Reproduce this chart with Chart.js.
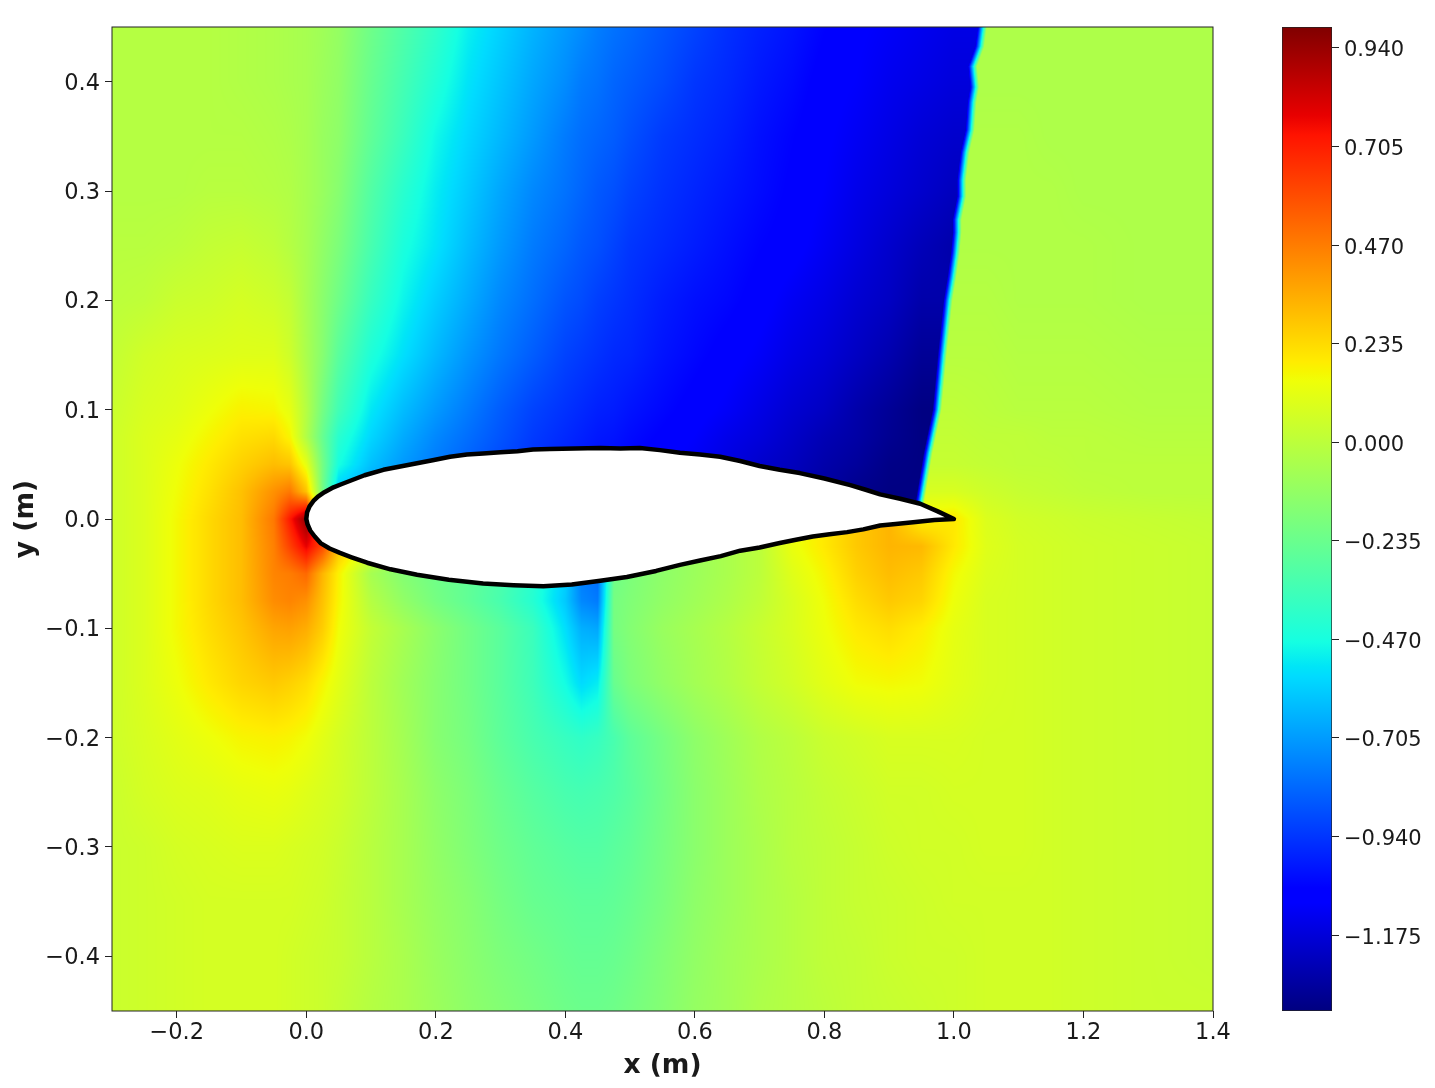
<!DOCTYPE html>
<html>
<head>
<meta charset="utf-8">
<title>Airfoil pressure field</title>
<script src="https://cdn.jsdelivr.net/npm/chart.js@4"></script>
<style>
body { margin: 0; background: #fff; }
canvas { position: absolute; top: 0; }
</style>
</head>
<body>
<canvas id="fieldChart" width="1435" height="1088" style="left:0"></canvas>
<canvas id="barChart" width="195" height="1088" style="left:1240px"></canvas>
<script>
// tick labels
const xTicks = [-0.2, 0, 0.2, 0.4, 0.6, 0.8, 1.0, 1.2, 1.4];
const yTicks = [-0.4, -0.3, -0.2, -0.1, 0, 0.1, 0.2, 0.3, 0.4];
const barTicks = [-1.175, -0.94, -0.705, -0.47, -0.235, 0, 0.235, 0.47, 0.705, 0.94];
const barRange = [-1.356, 0.99];

// grid of values (null = inside the airfoil)
const gridX = [-0.3, -0.25, -0.2, -0.15, -0.1, -0.05, -0.025, 0, 0.025, 0.05, 0.1, 0.15, 0.2, 0.25, 0.3, 0.35, 0.4, 0.425, 0.45, 0.475, 0.5, 0.55, 0.6, 0.65, 0.7, 0.75, 0.8, 0.85, 0.9, 0.95, 1, 1.05, 1.1, 1.15, 1.2, 1.3, 1.4];
const gridY = [0.45, 0.4, 0.35, 0.3, 0.25, 0.2, 0.15, 0.1, 0.075, 0.05, 0.025, 0, -0.025, -0.05, -0.075, -0.1, -0.15, -0.2, -0.25, -0.3, -0.35, -0.4, -0.45];
const gridValues = [
    [-.02, -.02, -.02, -.02, -.03, -.04, -.05, -.06, -.08, -.11, -.22, -.31, -.4, -.51, -.58, -.65, -.71, -.74, -.775, -.8, -.82, -.865, -.91, -.955, -.99, -1.02, -1.06, -1.09, -1.11, -1.13, -1.15, -.04, -.04, -.04, -.04, -.04, -.04],
    [-.02, -.02, -.02, -.02, -.03, -.04, -.05, -.06, -.09, -.12, -.24, -.34, -.44, -.54, -.61, -.68, -.74, -.78, -.8, -.83, -.85, -.89, -.94, -.97, -1.01, -1.04, -1.08, -1.1, -1.13, -1.15, -1.17, -.04, -.04, -.04, -.04, -.04, -.04],
    [-.02, -.02, -.02, -.02, -.02, -.03, -.04, -.06, -.1, -.13, -.26, -.37, -.49, -.57, -.64, -.71, -.78, -.81, -.83, -.85, -.88, -.93, -.96, -.99, -1.03, -1.06, -1.09, -1.12, -1.15, -1.18, -1.2, -.03, -.03, -.04, -.04, -.04, -.04],
    [-.02, -.02, -.02, -.01, -.01, -.02, -.03, -.06, -.1, -.15, -.3, -.42, -.52, -.6, -.68, -.75, -.8, -.83, -.86, -.88, -.91, -.95, -.98, -1.01, -1.04, -1.07, -1.1, -1.14, -1.17, -1.2, -1.23, -.03, -.03, -.03, -.04, -.04, -.04],
    [-.01, -.01, 0, .02, .03, .01, -.02, -.06, -.12, -.18, -.33, -.46, -.54, -.63, -.71, -.78, -.83, -.86, -.88, -.91, -.94, -.97, -1, -1.03, -1.06, -1.08, -1.12, -1.16, -1.2, -1.24, -1.27, -.03, -.03, -.03, -.03, -.04, -.04],
    [0, .01, .04, .05, .07, .05, .02, -.06, -.14, -.22, -.38, -.5, -.59, -.67, -.75, -.81, -.87, -.89, -.92, -.94, -.96, -1, -1.03, -1.05, -1.08, -1.12, -1.15, -1.19, -1.22, -1.27, -.02, -.02, -.03, -.03, -.03, -.04, -.04],
    [.02, .06, .08, .09, .1, .1, .05, -.05, -.15, -.28, -.45, -.55, -.64, -.72, -.79, -.85, -.91, -.93, -.95, -.97, -.98, -1.02, -1.05, -1.08, -1.11, -1.15, -1.18, -1.22, -1.26, -1.31, -.01, -.01, -.02, -.02, -.02, -.03, -.03],
    [.04, .08, .1, .14, .18, .17, .12, -.02, -.2, -.35, -.53, -.63, -.71, -.78, -.85, -.91, -.95, -.97, -.99, -1, -1.02, -1.05, -1.08, -1.11, -1.15, -1.19, -1.22, -1.27, -1.31, -1.35, .01, 0, -.01, -.01, -.01, -.02, -.02],
    [.05, .09, .12, .17, .22, .24, .17, -.03, -.24, -.42, -.57, -.67, -.75, -.81, -.87, -.93, -.97, -.99, -1.01, -1.02, -1.04, -1.07, -1.1, -1.14, -1.17, -1.21, -1.25, -1.28, -1.32, -1.35, .02, .01, .01, 0, 0, -.01, -.01],
    [.05, .09, .14, .2, .26, .31, .29, .12, -.2, -.47, -.62, -.71, -.78, -.84, -.9, -.95, -.99, -1.01, -1.03, -1.04, -1.06, -1.09, -1.12, -1.16, -1.2, -1.23, -1.27, -1.3, -1.34, -1.35, .03, .02, .01, .01, 0, 0, 0],
    [.05, .09, .15, .22, .3, .42, .48, .3, -.2, -.6, -.7, -.78, -.83, -.88, -.93, -.98, -1.02, -1.04, -1.05, -1.06, -1.08, -1.11, -1.14, -1.18, -1.22, -1.25, -1.29, -1.33, -1.35, -1.35, .08, .05, .03, .02, .01, 0, 0],
    [.05, .09, .16, .24, .31, .48, .72, .95, null, null, null, null, null, null, null, null, null, null, null, null, null, null, null, null, null, null, null, null, null, .18, .2, .09, .06, .05, .04, .03, .02],
    [.05, .09, .16, .24, .31, .46, .62, .78, .6, .3, .1, -.05, -.15, -.22, -.3, -.4, -.55, -.78, -.8, -.22, -.18, -.13, -.09, -.05, 0, .13, .2, .28, .33, .32, .2, .1, .07, .06, .05, .04, .03],
    [.05, .09, .16, .24, .31, .45, .47, .52, .33, .18, -.06, -.16, -.22, -.26, -.32, -.42, -.58, -.78, -.82, -.22, -.18, -.13, -.09, -.05, 0, .1, .17, .26, .31, .28, .16, .09, .07, .06, .05, .04, .03],
    [.05, .09, .16, .24, .31, .43, .45, .42, .3, .17, -.02, -.12, -.2, -.26, -.33, -.43, -.6, -.75, -.78, -.2, -.17, -.12, -.08, -.04, .01, .08, .15, .23, .28, .25, .14, .08, .07, .06, .05, .04, .03],
    [.05, .09, .16, .23, .29, .37, .38, .35, .27, .15, .02, -.06, -.14, -.21, -.28, -.37, -.55, -.66, -.68, -.2, -.16, -.1, -.06, -.02, .03, .08, .14, .2, .23, .19, .12, .08, .07, .06, .05, .04, .03],
    [.05, .09, .14, .2, .25, .28, .26, .23, .17, .11, 0, -.08, -.15, -.21, -.28, -.36, -.48, -.56, -.52, -.24, -.18, -.12, -.07, -.03, .02, .06, .11, .15, .16, .15, .11, .08, .07, .06, .05, .04, .03],
    [.05, .08, .11, .14, .17, .18, .17, .15, .11, .07, 0, -.07, -.15, -.2, -.27, -.33, -.38, -.4, -.38, -.33, -.27, -.2, -.13, -.08, -.03, 0, .04, .06, .08, .08, .08, .07, .07, .06, .05, .04, .03],
    [.04, .07, .09, .1, .12, .13, .12, .1, .08, .06, 0, -.06, -.13, -.18, -.24, -.29, -.33, -.34, -.33, -.31, -.28, -.21, -.14, -.09, -.04, -.01, .02, .04, .06, .06, .07, .07, .07, .06, .05, .04, .03],
    [.04, .05, .07, .08, .09, .09, .08, .07, .06, .04, -.01, -.06, -.12, -.17, -.22, -.26, -.29, -.3, -.3, -.28, -.26, -.2, -.14, -.09, -.05, -.01, .01, .03, .05, .06, .06, .07, .07, .06, .05, .04, .03],
    [.04, .05, .06, .07, .07, .07, .07, .06, .05, .03, -.01, -.06, -.11, -.15, -.2, -.24, -.26, -.27, -.27, -.26, -.24, -.19, -.13, -.09, -.05, -.02, .01, .03, .04, .05, .06, .06, .06, .06, .05, .04, .03],
    [.04, .05, .06, .07, .07, .07, .06, .05, .04, .03, -.01, -.05, -.1, -.14, -.18, -.21, -.24, -.25, -.25, -.24, -.22, -.17, -.12, -.08, -.05, -.02, .01, .02, .04, .05, .05, .06, .06, .06, .05, .04, .03],
    [.04, .05, .06, .07, .07, .07, .06, .05, .04, .02, -.02, -.05, -.09, -.13, -.16, -.19, -.22, -.23, -.23, -.22, -.2, -.16, -.11, -.08, -.04, -.02, 0, .02, .03, .04, .05, .06, .06, .06, .05, .04, .04]
];

// shock front above the airfoil
const shockY = [0, 0.017, 0.06, 0.1, 0.15, 0.2, 0.2215, 0.243, 0.262, 0.274, 0.295, 0.31, 0.335, 0.356, 0.381, 0.395, 0.414, 0.432, 0.45];
const shockX = [0.944, 0.948, 0.96, 0.974, 0.982, 0.991, 0.997, 1.002, 1.005, 1.005, 1.012, 1.012, 1.017, 1.025, 1.028, 1.032, 1.029, 1.04, 1.044];

// airfoil outline, upper side then lower side
const foilX = [0, 0.0012, 0.005, 0.011, 0.018, 0.028, 0.042, 0.055, 0.068, 0.09, 0.119, 0.145, 0.171, 0.197, 0.222, 0.248, 0.273, 0.3, 0.326, 0.35, 0.376, 0.415, 0.454, 0.485, 0.515, 0.546, 0.577, 0.608, 0.639, 0.67, 0.7, 0.731, 0.762, 0.8, 0.84, 0.865, 0.886, 0.917, 0.948, 0.975, 1,
    0.97, 0.937, 0.91, 0.886, 0.86, 0.835, 0.808, 0.782, 0.756, 0.731, 0.7, 0.67, 0.64, 0.608, 0.577, 0.54, 0.495, 0.454, 0.41, 0.366, 0.32, 0.273, 0.22, 0.171, 0.13, 0.094, 0.07, 0.052, 0.036, 0.022, 0.013, 0.006, 0.002, 0];
const foilY = [0, 0.006, 0.0115, 0.0165, 0.0205, 0.0245, 0.029, 0.032, 0.035, 0.04, 0.045, 0.048, 0.051, 0.054, 0.057, 0.059, 0.06, 0.061, 0.062, 0.0635, 0.064, 0.0645, 0.065, 0.0645, 0.065, 0.063, 0.0605, 0.059, 0.057, 0.053, 0.0485, 0.045, 0.042, 0.037, 0.031, 0.0265, 0.0225, 0.0185, 0.014, 0.007, 0,
    -0.001, -0.003, -0.0045, -0.006, -0.0095, -0.012, -0.014, -0.016, -0.019, -0.022, -0.026, -0.029, -0.034, -0.038, -0.042, -0.0475, -0.053, -0.0565, -0.06, -0.0615, -0.0605, -0.059, -0.0555, -0.051, -0.046, -0.04, -0.035, -0.031, -0.027, -0.022, -0.016, -0.0105, -0.005, 0];

// matplotlib jet, knots per channel
const jetR = [[0, 0], [0.35, 0], [0.66, 1], [0.89, 1], [1, 0.5]];
const jetG = [[0, 0], [0.125, 0], [0.375, 1], [0.64, 1], [0.91, 0], [1, 0]];
const jetB = [[0, 0.5], [0.11, 1], [0.34, 1], [0.65, 0], [1, 0]];
const jetKnots = [0, 0.11, 0.125, 0.34, 0.35, 0.375, 0.64, 0.65, 0.66, 0.89, 0.91, 1];

const textColor = '#1a1a1a';
const fmt = (v, d) => v.toFixed(d).replace('-', '\u2212');

function channel(knots, t) {
    for (let i = 1; i < knots.length; i++) {
        if (t <= knots[i][0]) {
            const a = knots[i - 1], b = knots[i];
            return a[1] + (b[1] - a[1]) * (t - a[0]) / (b[0] - a[0]);
        }
    }
    return knots[knots.length - 1][1];
}

function jet(v) {
    const t = Math.min(1, Math.max(0, (v - barRange[0]) / (barRange[1] - barRange[0])));
    return [channel(jetR, t) * 255, channel(jetG, t) * 255, channel(jetB, t) * 255];
}

function shockAt(y) {
    for (let i = 1; i < shockY.length; i++) {
        if (y <= shockY[i]) {
            return shockX[i - 1] + (shockX[i] - shockX[i - 1]) * (y - shockY[i - 1]) / (shockY[i] - shockY[i - 1]);
        }
    }
    return shockX[shockX.length - 1];
}

// side: 0 ignore the shock, -1 only nodes upstream of it, 1 only nodes downstream
function sampleField(x, y, side) {
    let c = 0, r = 0;
    while (c < gridX.length - 2 && gridX[c + 1] <= x) c++;
    while (r < gridY.length - 2 && gridY[r + 1] >= y) r++;
    const node = (ci, ri) => {
        if (side !== 0 && gridY[ri] >= 0) {
            const s = shockAt(gridY[ri]);
            if (side < 0) { while (gridX[ci] > s && ci > 0) ci--; }
            else { while (gridX[ci] < s && ci < gridX.length - 1) ci++; }
        }
        const v = gridValues[ri][ci];
        return v === null ? gridValues[ri + (y >= 0 ? -1 : 1)][ci] : v;
    };
    const fx = Math.min(1, Math.max(0, (x - gridX[c]) / (gridX[c + 1] - gridX[c])));
    const fy = Math.min(1, Math.max(0, (gridY[r] - y) / (gridY[r] - gridY[r + 1])));
    const top = node(c, r) * (1 - fx) + node(c + 1, r) * fx;
    const bottom = node(c, r + 1) * (1 - fx) + node(c + 1, r + 1) * fx;
    return top * (1 - fy) + bottom * fy;
}

function fieldValue(x, y) {
    if (y < 0 || x < 0.85) return sampleField(x, y, 0);
    const s = shockAt(y), w = 0.007;
    if (x <= s - w) return sampleField(x, y, -1);
    if (x >= s + w) return sampleField(x, y, 1);
    const f = (x - s + w) / (2 * w);
    return sampleField(x, y, -1) * (1 - f) + sampleField(x, y, 1) * f;
}

// paints the grid values into the plot area through the chart's scales
let fieldImage = null;
const fieldPlugin = {
    id: 'field',
    beforeDatasetsDraw(chart) {
        const { ctx, chartArea: a, scales } = chart;
        const w = Math.round(a.right - a.left), h = Math.round(a.bottom - a.top);
        if (!fieldImage) {
            fieldImage = document.createElement('canvas');
            fieldImage.width = w;
            fieldImage.height = h;
            const off = fieldImage.getContext('2d');
            const img = off.createImageData(w, h);
            for (let j = 0; j < h; j++) {
                const y = scales.y.getValueForPixel(a.top + j + 0.5);
                for (let i = 0; i < w; i++) {
                    const x = scales.x.getValueForPixel(a.left + i + 0.5);
                    const rgb = jet(fieldValue(x, y));
                    const k = (j * w + i) * 4;
                    img.data[k] = rgb[0];
                    img.data[k + 1] = rgb[1];
                    img.data[k + 2] = rgb[2];
                    img.data[k + 3] = 255;
                }
            }
            off.putImageData(img, 0, 0);
        }
        ctx.drawImage(fieldImage, a.left, a.top, w, h);
    },
    afterDatasetsDraw(chart) {
        const { ctx, chartArea: a } = chart;
        ctx.save();
        ctx.strokeStyle = '#222';
        ctx.lineWidth = 1;
        ctx.strokeRect(a.left, a.top, a.right - a.left, a.bottom - a.top);
        ctx.restore();
    }
};

new Chart(document.getElementById('fieldChart'), {
    type: 'scatter',
    data: {
        datasets: [{
            data: foilX.map((x, i) => ({ x: x, y: foilY[i] })),
            showLine: true,
            tension: 0,
            fill: 'shape',
            backgroundColor: '#fff',
            borderColor: '#000',
            borderWidth: 4.5,
            borderJoinStyle: 'round',
            borderCapStyle: 'round',
            pointRadius: 0,
            clip: false
        }]
    },
    plugins: [fieldPlugin],
    options: {
        responsive: false,
        animation: false,
        layout: { padding: { top: 27, right: 222, left: 0, bottom: 0 } },
        plugins: { legend: { display: false }, tooltip: { enabled: false } },
        scales: {
            x: {
                type: 'linear', min: -0.3, max: 1.4,
                afterBuildTicks: s => { s.ticks = xTicks.map(v => ({ value: v })); },
                afterFit: s => { s.height = 77; },
                grid: { drawOnChartArea: false, tickLength: 7, color: '#222' },
                border: { display: false },
                ticks: { color: textColor, font: { family: 'DejaVu Sans', size: 22.5 }, padding: 2, maxRotation: 0, autoSkip: false, callback: v => fmt(v, 1) },
                title: { display: true, text: 'x (m)', color: textColor, font: { family: 'DejaVu Sans', size: 26.5, weight: 'bold' }, padding: { top: 0, bottom: 6 } }
            },
            y: {
                type: 'linear', min: -0.45, max: 0.45,
                afterBuildTicks: s => { s.ticks = yTicks.map(v => ({ value: v })); },
                afterFit: s => { s.width = 112; },
                grid: { drawOnChartArea: false, tickLength: 7, color: '#222' },
                border: { display: false },
                ticks: { color: textColor, font: { family: 'DejaVu Sans', size: 22.5 }, padding: 5, labelOffset: 2, autoSkip: false, callback: v => fmt(v, 1) },
                title: { display: true, text: 'y (m)', color: textColor, font: { family: 'DejaVu Sans', size: 26.5, weight: 'bold' }, padding: { top: 10, bottom: 0 } }
            }
        }
    }
});

// colour bar: one floating bar painted with the jet knots along its own value axis
new Chart(document.getElementById('barChart'), {
    type: 'bar',
    data: {
        labels: [''],
        datasets: [{
            data: [barRange],
            categoryPercentage: 1,
            barPercentage: 1,
            borderWidth: 1,
            borderColor: '#222',
            borderSkipped: false,
            backgroundColor(c) {
                const s = c.chart.scales.y;
                const y0 = s ? s.getPixelForValue(barRange[0]) : NaN;
                const y1 = s ? s.getPixelForValue(barRange[1]) : NaN;
                if (!isFinite(y0) || !isFinite(y1)) return '#000';
                const g = c.chart.ctx.createLinearGradient(0, y0, 0, y1);
                jetKnots.forEach(t => {
                    g.addColorStop(t, `rgb(${channel(jetR, t) * 255},${channel(jetG, t) * 255},${channel(jetB, t) * 255})`);
                });
                return g;
            }
        }]
    },
    options: {
        responsive: false,
        animation: false,
        layout: { padding: { top: 27, left: 42, bottom: 77, right: 0 } },
        plugins: { legend: { display: false }, tooltip: { enabled: false } },
        scales: {
            x: { display: false },
            y: {
                position: 'right',
                type: 'linear', min: barRange[0], max: barRange[1],
                afterBuildTicks: s => { s.ticks = barTicks.map(v => ({ value: v })); },
                afterFit: s => { s.width = 103; },
                grid: { drawOnChartArea: false, tickLength: 7, color: '#222' },
                border: { display: false },
                ticks: { color: textColor, font: { family: 'DejaVu Sans', size: 21 }, padding: 5, labelOffset: 3, autoSkip: false, callback: v => fmt(v, 3) }
            }
        }
    }
});
</script>
</body>
</html>
